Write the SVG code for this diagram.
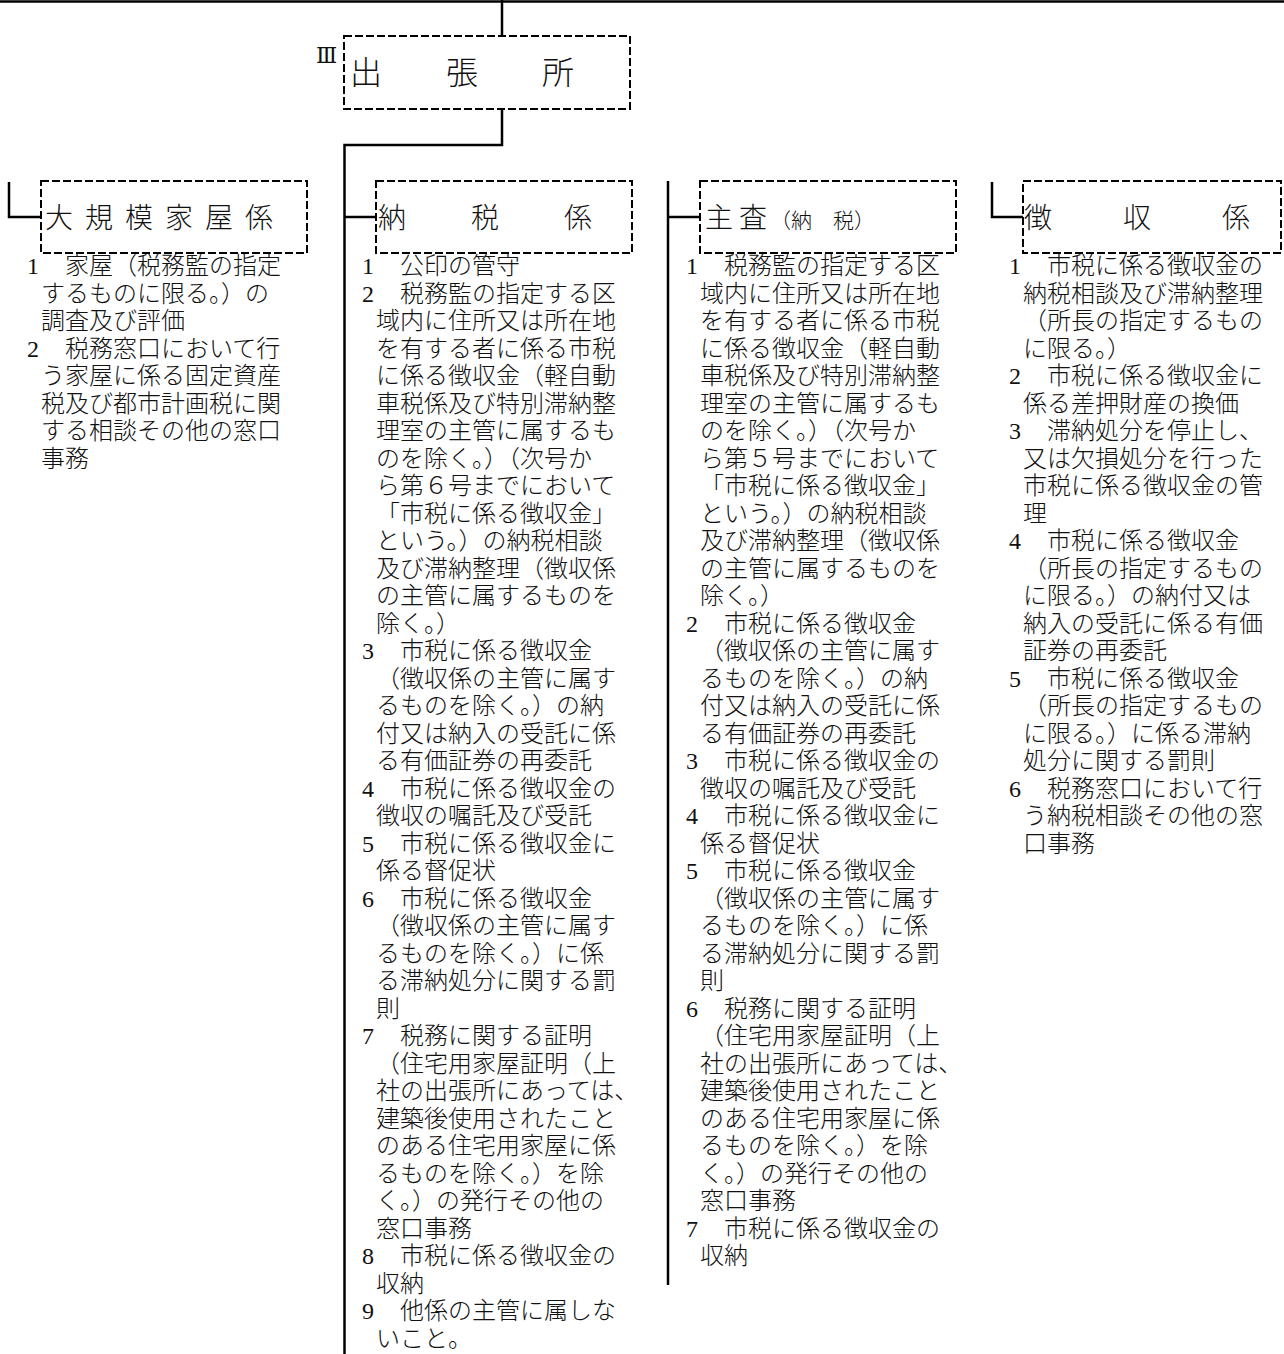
<svg xmlns="http://www.w3.org/2000/svg" width="1284" height="1354" viewBox="0 0 1284 1354">
<style>
.bg{fill:#fff}
.ln{stroke:#000;stroke-width:2.5;fill:none}
.box{fill:none;stroke:#000;stroke-width:2;stroke-dasharray:8 3}
.t{font-family:"Noto Sans CJK JP","Noto Sans CJK SC",sans-serif;font-size:24px;fill:#111;font-weight:300}
.num{font-family:"Liberation Serif",serif;font-size:24px;font-weight:400}
.h{font-family:"Noto Sans CJK JP","Noto Sans CJK SC",sans-serif;font-size:28px;fill:#111;font-weight:300}
</style>
<rect class="bg" x="0" y="0" width="1284" height="1354"/>
<g id="connectors">
<path class="ln" d="M0 1.5 H1284"/>
<path class="ln" d="M502 0 V36"/>
<path class="ln" d="M502 109 V145 H344.5 V1354"/>
<path class="ln" d="M344.5 217 H376"/>
<path class="ln" d="M9 182 V217 H41"/>
<path class="ln" d="M668 181 V1285"/>
<path class="ln" d="M668 217 H700"/>
<path class="ln" d="M992 182 V217 H1023"/>
</g>
<g id="shuchoujo">
<rect class="box" x="344" y="36" width="286" height="73"/>
<text x="316" y="63" font-family="DejaVu Serif,serif" font-size="22" fill="#111">Ⅲ</text>
<text class="h" x="350" y="84" style="font-size:32px">出　　張　　所</text>
</g>
<g id="daikibo">
<rect class="box" x="41" y="181" width="266" height="72"/>
<text class="h" x="45" y="228" letter-spacing="12">大規模家屋係</text>
<text class="t" y="274"><tspan class="num" x="27">1</tspan><tspan x="65">家屋（税務監の指定</tspan></text>
<text class="t" x="41" y="301.5">するものに限る。）の</text>
<text class="t" x="41" y="329">調査及び評価</text>
<text class="t" y="356.5"><tspan class="num" x="27">2</tspan><tspan x="65">税務窓口において行</tspan></text>
<text class="t" x="41" y="384">う家屋に係る固定資産</text>
<text class="t" x="41" y="411.5">税及び都市計画税に関</text>
<text class="t" x="41" y="439">する相談その他の窓口</text>
<text class="t" x="41" y="466.5">事務</text>
</g>
<g id="nouzei">
<rect class="box" x="376" y="181" width="256" height="72"/>
<text class="h" x="378" y="228" letter-spacing="3">納　　税　　係</text>
<text class="t" y="274"><tspan class="num" x="362">1</tspan><tspan x="400">公印の管守</tspan></text>
<text class="t" y="301.5"><tspan class="num" x="362">2</tspan><tspan x="400">税務監の指定する区</tspan></text>
<text class="t" x="376" y="329">域内に住所又は所在地</text>
<text class="t" x="376" y="356.5">を有する者に係る市税</text>
<text class="t" x="376" y="384">に係る徴収金（軽自動</text>
<text class="t" x="376" y="411.5">車税係及び特別滞納整</text>
<text class="t" x="376" y="439">理室の主管に属するも</text>
<text class="t" x="376" y="466.5">のを除く。）（次号か</text>
<text class="t" x="376" y="494">ら第６号までにおいて</text>
<text class="t" x="376" y="521.5">「市税に係る徴収金」</text>
<text class="t" x="376" y="549">という。）の納税相談</text>
<text class="t" x="376" y="576.5">及び滞納整理（徴収係</text>
<text class="t" x="376" y="604">の主管に属するものを</text>
<text class="t" x="376" y="631.5">除く。）</text>
<text class="t" y="659"><tspan class="num" x="362">3</tspan><tspan x="400">市税に係る徴収金</tspan></text>
<text class="t" x="376" y="686.5">（徴収係の主管に属す</text>
<text class="t" x="376" y="714">るものを除く。）の納</text>
<text class="t" x="376" y="741.5">付又は納入の受託に係</text>
<text class="t" x="376" y="769">る有価証券の再委託</text>
<text class="t" y="796.5"><tspan class="num" x="362">4</tspan><tspan x="400">市税に係る徴収金の</tspan></text>
<text class="t" x="376" y="824">徴収の嘱託及び受託</text>
<text class="t" y="851.5"><tspan class="num" x="362">5</tspan><tspan x="400">市税に係る徴収金に</tspan></text>
<text class="t" x="376" y="879">係る督促状</text>
<text class="t" y="906.5"><tspan class="num" x="362">6</tspan><tspan x="400">市税に係る徴収金</tspan></text>
<text class="t" x="376" y="934">（徴収係の主管に属す</text>
<text class="t" x="376" y="961.5">るものを除く。）に係</text>
<text class="t" x="376" y="989">る滞納処分に関する罰</text>
<text class="t" x="376" y="1016.5">則</text>
<text class="t" y="1044"><tspan class="num" x="362">7</tspan><tspan x="400">税務に関する証明</tspan></text>
<text class="t" x="376" y="1071.5">（住宅用家屋証明（上</text>
<text class="t" x="376" y="1099">社の出張所にあっては、</text>
<text class="t" x="376" y="1126.5">建築後使用されたこと</text>
<text class="t" x="376" y="1154">のある住宅用家屋に係</text>
<text class="t" x="376" y="1181.5">るものを除く。）を除</text>
<text class="t" x="376" y="1209">く。）の発行その他の</text>
<text class="t" x="376" y="1236.5">窓口事務</text>
<text class="t" y="1264"><tspan class="num" x="362">8</tspan><tspan x="400">市税に係る徴収金の</tspan></text>
<text class="t" x="376" y="1291.5">収納</text>
<text class="t" y="1319"><tspan class="num" x="362">9</tspan><tspan x="400">他係の主管に属しな</tspan></text>
<text class="t" x="376" y="1346.5">いこと。</text>
</g>
<g id="shusa">
<rect class="box" x="700" y="181" width="256" height="72"/>
<text class="h" y="228"><tspan x="705" letter-spacing="6">主査</tspan><tspan x="770" style="font-size:21px">（納　税）</tspan></text>
<text class="t" y="274"><tspan class="num" x="686">1</tspan><tspan x="724">税務監の指定する区</tspan></text>
<text class="t" x="700" y="301.5">域内に住所又は所在地</text>
<text class="t" x="700" y="329">を有する者に係る市税</text>
<text class="t" x="700" y="356.5">に係る徴収金（軽自動</text>
<text class="t" x="700" y="384">車税係及び特別滞納整</text>
<text class="t" x="700" y="411.5">理室の主管に属するも</text>
<text class="t" x="700" y="439">のを除く。）（次号か</text>
<text class="t" x="700" y="466.5">ら第５号までにおいて</text>
<text class="t" x="700" y="494">「市税に係る徴収金」</text>
<text class="t" x="700" y="521.5">という。）の納税相談</text>
<text class="t" x="700" y="549">及び滞納整理（徴収係</text>
<text class="t" x="700" y="576.5">の主管に属するものを</text>
<text class="t" x="700" y="604">除く。）</text>
<text class="t" y="631.5"><tspan class="num" x="686">2</tspan><tspan x="724">市税に係る徴収金</tspan></text>
<text class="t" x="700" y="659">（徴収係の主管に属す</text>
<text class="t" x="700" y="686.5">るものを除く。）の納</text>
<text class="t" x="700" y="714">付又は納入の受託に係</text>
<text class="t" x="700" y="741.5">る有価証券の再委託</text>
<text class="t" y="769"><tspan class="num" x="686">3</tspan><tspan x="724">市税に係る徴収金の</tspan></text>
<text class="t" x="700" y="796.5">徴収の嘱託及び受託</text>
<text class="t" y="824"><tspan class="num" x="686">4</tspan><tspan x="724">市税に係る徴収金に</tspan></text>
<text class="t" x="700" y="851.5">係る督促状</text>
<text class="t" y="879"><tspan class="num" x="686">5</tspan><tspan x="724">市税に係る徴収金</tspan></text>
<text class="t" x="700" y="906.5">（徴収係の主管に属す</text>
<text class="t" x="700" y="934">るものを除く。）に係</text>
<text class="t" x="700" y="961.5">る滞納処分に関する罰</text>
<text class="t" x="700" y="989">則</text>
<text class="t" y="1016.5"><tspan class="num" x="686">6</tspan><tspan x="724">税務に関する証明</tspan></text>
<text class="t" x="700" y="1044">（住宅用家屋証明（上</text>
<text class="t" x="700" y="1071.5">社の出張所にあっては、</text>
<text class="t" x="700" y="1099">建築後使用されたこと</text>
<text class="t" x="700" y="1126.5">のある住宅用家屋に係</text>
<text class="t" x="700" y="1154">るものを除く。）を除</text>
<text class="t" x="700" y="1181.5">く。）の発行その他の</text>
<text class="t" x="700" y="1209">窓口事務</text>
<text class="t" y="1236.5"><tspan class="num" x="686">7</tspan><tspan x="724">市税に係る徴収金の</tspan></text>
<text class="t" x="700" y="1264">収納</text>
</g>
<g id="choushuu">
<rect class="box" x="1023" y="181" width="258" height="72"/>
<text class="h" x="1024" y="228" letter-spacing="5">徴　　収　　係</text>
<text class="t" y="274"><tspan class="num" x="1009">1</tspan><tspan x="1047">市税に係る徴収金の</tspan></text>
<text class="t" x="1023" y="301.5">納税相談及び滞納整理</text>
<text class="t" x="1023" y="329">（所長の指定するもの</text>
<text class="t" x="1023" y="356.5">に限る。）</text>
<text class="t" y="384"><tspan class="num" x="1009">2</tspan><tspan x="1047">市税に係る徴収金に</tspan></text>
<text class="t" x="1023" y="411.5">係る差押財産の換価</text>
<text class="t" y="439"><tspan class="num" x="1009">3</tspan><tspan x="1047">滞納処分を停止し、</tspan></text>
<text class="t" x="1023" y="466.5">又は欠損処分を行った</text>
<text class="t" x="1023" y="494">市税に係る徴収金の管</text>
<text class="t" x="1023" y="521.5">理</text>
<text class="t" y="549"><tspan class="num" x="1009">4</tspan><tspan x="1047">市税に係る徴収金</tspan></text>
<text class="t" x="1023" y="576.5">（所長の指定するもの</text>
<text class="t" x="1023" y="604">に限る。）の納付又は</text>
<text class="t" x="1023" y="631.5">納入の受託に係る有価</text>
<text class="t" x="1023" y="659">証券の再委託</text>
<text class="t" y="686.5"><tspan class="num" x="1009">5</tspan><tspan x="1047">市税に係る徴収金</tspan></text>
<text class="t" x="1023" y="714">（所長の指定するもの</text>
<text class="t" x="1023" y="741.5">に限る。）に係る滞納</text>
<text class="t" x="1023" y="769">処分に関する罰則</text>
<text class="t" y="796.5"><tspan class="num" x="1009">6</tspan><tspan x="1047">税務窓口において行</tspan></text>
<text class="t" x="1023" y="824">う納税相談その他の窓</text>
<text class="t" x="1023" y="851.5">口事務</text>
</g>
</svg>
